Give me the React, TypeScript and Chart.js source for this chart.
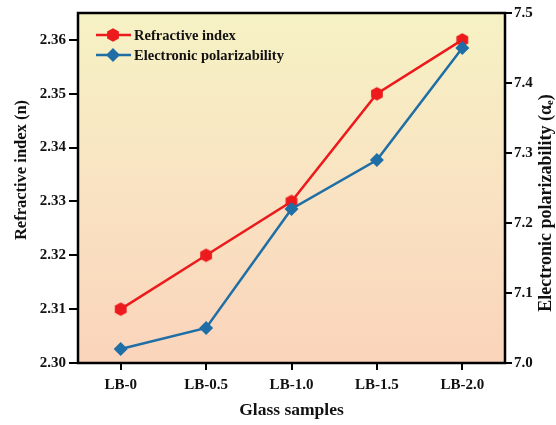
import React, { useEffect, useRef } from 'react';
import { Chart, registerables } from 'chart.js';

Chart.register(...registerables);

const categories = ['LB-0', 'LB-0.5', 'LB-1.0', 'LB-1.5', 'LB-2.0'];
const refractiveIndex = [2.31, 2.32, 2.33, 2.35, 2.36];
const polarizability = [7.02, 7.05, 7.22, 7.29, 7.45];
const seriesNames = ['Refractive index', 'Electronic polarizability'];
const xTitle = 'Glass samples';
const leftTitle = 'Refractive index (n)';
const rightTitle = 'Electronic polarizability (α\u2091)';

const FONT = "'Liberation Serif', 'Times New Roman', serif";
const RED = '#ec1a1c';
const BLUE = '#1f6ea5';

function makeHex(r: number, color: string) {
  const c = document.createElement('canvas');
  const s = Math.ceil(r * 2 + 2);
  c.width = s;
  c.height = s;
  const ctx = c.getContext('2d')!;
  ctx.beginPath();
  for (let i = 0; i < 6; i++) {
    const a = -Math.PI / 2 + (i * Math.PI) / 3;
    const x = s / 2 + r * Math.cos(a);
    const y = s / 2 + r * Math.sin(a);
    if (i) ctx.lineTo(x, y);
    else ctx.moveTo(x, y);
  }
  ctx.closePath();
  ctx.fillStyle = color;
  ctx.fill();
  return c;
}

export default function App() {
  const ref = useRef<HTMLCanvasElement>(null);

  useEffect(() => {
    if (!ref.current) return;
    const hex = makeHex(6.8, RED);

    const bgPlugin = {
      id: 'bg',
      beforeDatasetsDraw(chart: any) {
        const { ctx, chartArea: a } = chart;
        ctx.save();
        const g = ctx.createLinearGradient(0, a.top, 0, a.bottom);
        g.addColorStop(0, '#f6f2c4');
        g.addColorStop(0.5, '#f9e3c2');
        g.addColorStop(1, '#fad4bb');
        ctx.fillStyle = g;
        ctx.fillRect(a.left, a.top, a.right - a.left, a.bottom - a.top);
        ctx.restore();
      },
      afterDraw(chart: any) {
        const { ctx, chartArea: a } = chart;
        ctx.save();
        ctx.strokeStyle = '#000';
        ctx.lineWidth = 2.5;
        ctx.strokeRect(a.left, a.top, a.right - a.left, a.bottom - a.top);

        // legend
        const lx = a.left + 18;
        const rows = [
          { y: a.top + 22, color: RED, name: seriesNames[0], hex: true },
          { y: a.top + 42, color: BLUE, name: seriesNames[1], hex: false },
        ];
        ctx.font = `bold 14.5px ${FONT}`;
        ctx.textBaseline = 'middle';
        ctx.textAlign = 'left';
        for (const r of rows) {
          ctx.strokeStyle = r.color;
          ctx.lineWidth = 2.5;
          ctx.beginPath();
          ctx.moveTo(lx, r.y);
          ctx.lineTo(lx + 35, r.y);
          ctx.stroke();
          const cx = lx + 17;
          if (r.hex) {
            ctx.drawImage(hex, cx - hex.width / 2, r.y - hex.height / 2);
          } else {
            ctx.fillStyle = r.color;
            ctx.beginPath();
            ctx.moveTo(cx, r.y - 7);
            ctx.lineTo(cx + 7, r.y);
            ctx.lineTo(cx, r.y + 7);
            ctx.lineTo(cx - 7, r.y);
            ctx.closePath();
            ctx.fill();
          }
          ctx.fillStyle = '#111';
          ctx.fillText(r.name, lx + 38, r.y + 1);
        }

        // titles
        ctx.fillStyle = '#111';
        ctx.textAlign = 'center';
        ctx.textBaseline = 'middle';
        ctx.font = `bold 17.5px ${FONT}`;
        ctx.fillText(xTitle, (a.left + a.right) / 2, 410);

        ctx.font = `bold 16.5px ${FONT}`;
        ctx.save();
        ctx.translate(22, 170);
        ctx.rotate(-Math.PI / 2);
        ctx.fillText(leftTitle, 0, 0);
        ctx.restore();

        ctx.font = `bold 18px ${FONT}`;
        ctx.save();
        ctx.translate(546, 203);
        ctx.rotate(-Math.PI / 2);
        ctx.fillText(rightTitle, 0, 0);
        ctx.restore();
        ctx.restore();
      },
    };

    const tickFont = { family: FONT, size: 15, weight: 'bold' as const };
    const gridBase = {
      display: true,
      drawOnChartArea: false,
      drawTicks: true,
      tickWidth: 2,
      tickColor: '#000',
      lineWidth: 2,
      color: '#000',
    };

    const chart = new Chart(ref.current, {
      type: 'line',
      data: {
        labels: categories,
        datasets: [
          {
            label: seriesNames[0],
            data: refractiveIndex,
            yAxisID: 'y',
            borderColor: RED,
            backgroundColor: RED,
            borderWidth: 2.5,
            pointStyle: hex as any,
            pointRadius: 7,
            order: 1,
          },
          {
            label: seriesNames[1],
            data: polarizability,
            yAxisID: 'y1',
            borderColor: BLUE,
            backgroundColor: BLUE,
            borderWidth: 2.5,
            pointStyle: 'rectRot',
            pointRadius: 7,
            pointBorderWidth: 0,
            order: 0,
          },
        ],
      },
      options: {
        animation: false,
        responsive: false,
        maintainAspectRatio: false,
        layout: { padding: { top: 13, left: 0, right: 0, bottom: 0 } },
        plugins: { legend: { display: false }, tooltip: { enabled: false } },
        scales: {
          x: {
            type: 'category',
            offset: true,
            grid: { ...gridBase, tickLength: 7, offset: false },
            border: { display: false },
            ticks: { font: tickFont, color: '#111', padding: 6, maxRotation: 0 },
            afterFit(s: any) {
              s.height = 62;
            },
          },
          y: {
            position: 'left',
            min: 2.3,
            max: 2.365,
            grid: { ...gridBase, tickLength: 9 },
            border: { display: false },
            ticks: {
              stepSize: 0.01,
              includeBounds: false,
              font: tickFont,
              color: '#111',
              padding: 3,
              callback: (v: any) => Number(v).toFixed(2),
            },
            afterFit(s: any) {
              s.width = 78;
            },
          },
          y1: {
            position: 'right',
            min: 7.0,
            max: 7.5,
            grid: { ...gridBase, tickLength: 7 },
            border: { display: false },
            ticks: {
              stepSize: 0.1,
              font: tickFont,
              color: '#111',
              padding: 2,
              callback: (v: any) => Number(v).toFixed(1),
            },
            afterFit(s: any) {
              s.width = 51;
            },
          },
        },
      },
      plugins: [bgPlugin],
    });
    return () => chart.destroy();
  }, []);

  return (
    <div style={{ width: 540, height: 409 }}>
      <canvas
        ref={ref}
        width={556}
        height={425}
        style={{ display: 'block', position: 'absolute', left: 0, top: 0 }}
      />
    </div>
  );
}
